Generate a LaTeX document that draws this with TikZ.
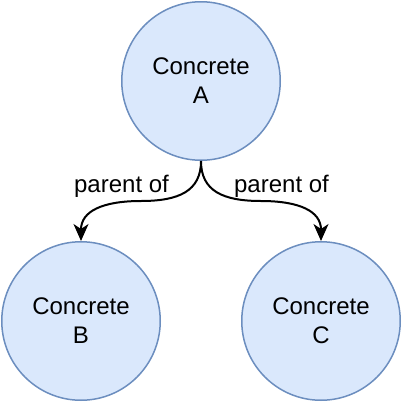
\documentclass[tikz,border=0pt]{standalone}
\usepackage{fontspec}
\setmainfont{Liberation Sans}
\usetikzlibrary{positioning,arrows.meta,calc}
\definecolor{cfill}{HTML}{DAE8FC}
\definecolor{cdraw}{HTML}{6C8EBF}

\begin{document}
\begin{tikzpicture}[
  x=1pt, y=1pt,
  font=\fontsize{24}{28.8}\selectfont,
  >={Stealth[length=17pt,width=15pt,inset=5pt]},
  concrete/.style={circle, draw=cdraw, fill=cfill, line width=1.5pt, minimum size=158.5pt, inner sep=0pt, align=center},
  rel/.style={->, line width=2pt},
  lbl/.style={anchor=base, inner sep=0pt},
]
\useasboundingbox (0,0) rectangle (402,-402);

% Classes
\node[concrete] (a) at (201,-81) {Concrete\\A};
\node[concrete] (b) at (81,-321) {Concrete\\B};
\node[concrete] (c) at (321,-321) {Concrete\\C};

% Parent links
\coordinate (ab) at ($(a.south)!0.5!(b.north)$);
\coordinate (ac) at ($(a.south)!0.5!(c.north)$);
\draw[rel] (a.south) .. controls ($(a.south)+(0,-30)$) and ($(ab)+(38,0)$) .. (ab)
  .. controls ($(ab)+(-38,0)$) and ($(b.north)+(0,30)$) .. (b.north);
\draw[rel] (a.south) .. controls ($(a.south)+(0,-30)$) and ($(ac)+(-38,0)$) .. (ac)
  .. controls ($(ac)+(38,0)$) and ($(c.north)+(0,30)$) .. (c.north);

% Labels
\node[lbl] (lab) at (121.5,-192) {parent of};
\node[lbl] (lac) at (281.5,-192) {parent of};

\end{tikzpicture}
\end{document}
